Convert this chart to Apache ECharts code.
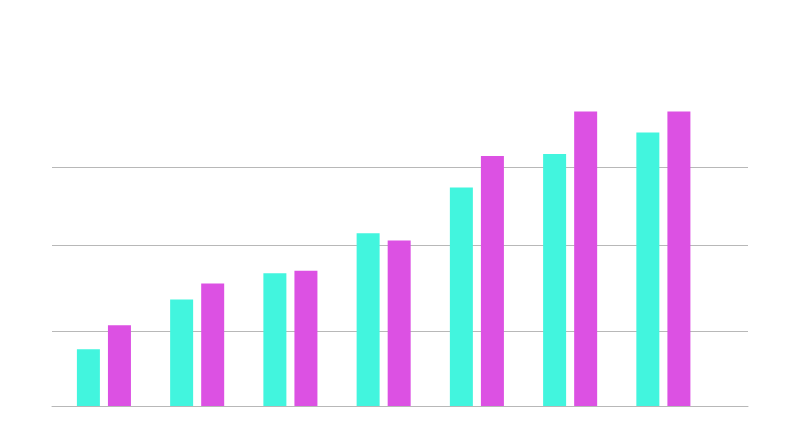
<!DOCTYPE html>
<html>
<head>
<meta charset="utf-8">
<script src="https://cdn.jsdelivr.net/npm/echarts@6/dist/echarts.min.js"></script>
<style>html,body{margin:0;padding:0;background:#fff}#c{width:800px;height:422px}</style>
</head>
<body>
<div id="c"></div>
<script>
const categories = ['1', '2', '3', '4', '5', '6', '7'];
const seriesA = [7.1, 13.3, 16.6, 21.6, 27.3, 31.5, 34.2];
const seriesB = [10.1, 15.3, 16.9, 20.7, 31.25, 36.8, 36.8];
const gridValues = [9.4, 20.1, 29.9];

const chart = echarts.init(document.getElementById('c'), null, {renderer: 'canvas'});
const yCommon = {type: 'value', min: 0, max: 40, axisLabel: {show: false}, axisLine: {show: false}, axisTick: {show: false}, splitLine: {show: false}};
chart.setOption({
  backgroundColor: '#ffffff',
  animation: false,
  grid: [
    {left: 57.3, right: 90, top: 86, bottom: 16},
    {left: 52, right: 52, top: 86, bottom: 16}
  ],
  xAxis: [
    {type: 'category', data: categories, gridIndex: 0, axisLine: {show: false}, axisTick: {show: false}, axisLabel: {show: false}},
    {type: 'value', gridIndex: 1, min: 0, max: 1, show: true, axisLine: {show: true, lineStyle: {color: '#b8b8b8', width: 1}}, axisTick: {show: false}, axisLabel: {show: false}, splitLine: {show: false}}
  ],
  yAxis: [
    Object.assign({gridIndex: 0}, yCommon),
    Object.assign({gridIndex: 1}, yCommon)
  ],
  series: [
    {
      type: 'line', xAxisIndex: 1, yAxisIndex: 1, data: [], z: 1, silent: true,
      markLine: {
        silent: true, symbol: 'none', z: 1,
        label: {show: false},
        lineStyle: {color: '#b8b8b8', width: 1, type: 'solid'},
        data: gridValues.map(v => ({yAxis: v}))
      }
    },
    {type: 'bar', xAxisIndex: 0, yAxisIndex: 0, data: seriesA, barWidth: 23, barGap: '35%', z: 5, itemStyle: {color: '#42f5de'}},
    {type: 'bar', xAxisIndex: 0, yAxisIndex: 0, data: seriesB, barWidth: 23, barGap: '35%', z: 5, itemStyle: {color: '#dc51e3'}}
  ]
});
</script>
</body>
</html>
